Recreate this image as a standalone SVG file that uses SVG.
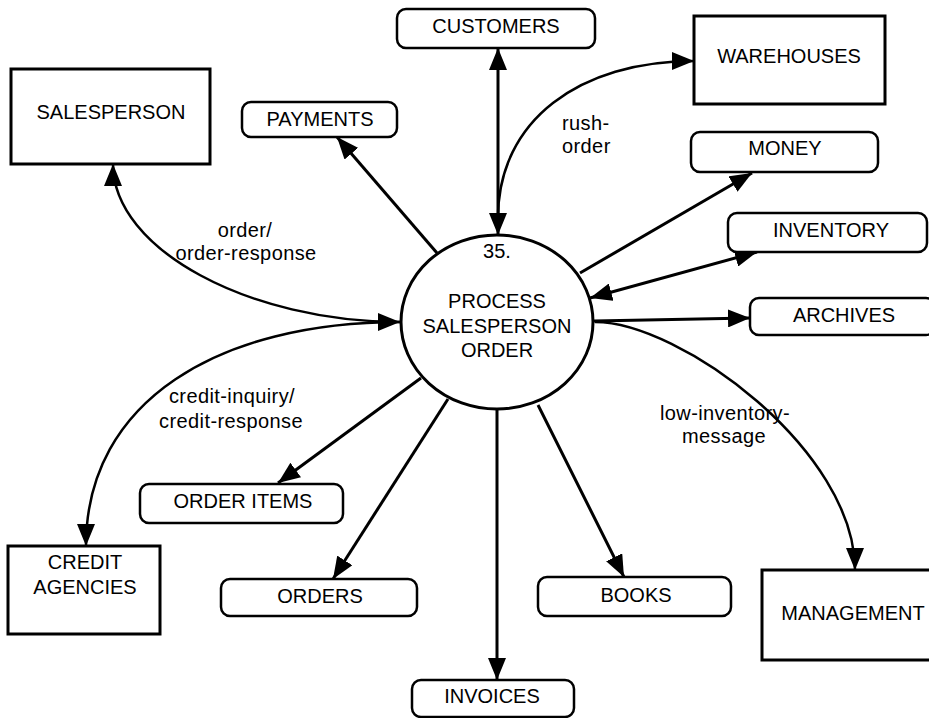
<svg xmlns="http://www.w3.org/2000/svg" width="929" height="718" viewBox="0 0 929 718">
<style>
text{font-family:"Liberation Sans",Arial,sans-serif;font-size:20px;fill:#000;text-anchor:middle}
.lbl{letter-spacing:0.4px}
.start{text-anchor:start}
.box{fill:#fff;stroke:#000;stroke-width:3}
.store{fill:#fff;stroke:#000;stroke-width:2.5}
.proc{fill:#fff;stroke:#000;stroke-width:3}
.flow{fill:none;stroke:#000;stroke-width:3}
.curve{fill:none;stroke:#000;stroke-width:2.5}
</style>
<defs>
<marker id="ah" viewBox="0 0 22 18" refX="22" refY="9" markerWidth="22" markerHeight="18" markerUnits="userSpaceOnUse" orient="auto-start-reverse"><path d="M0,0 L22,9 L0,18 z" fill="#000"/></marker>
</defs>
<rect width="929" height="718" fill="#fff"/>
<g id="connectors">
<path class="curve" d="M113 164 C113 250 250 322 400 322" marker-start="url(#ah)" marker-end="url(#ah)"/>
<path class="curve" d="M400 322 C220 322 86 400 86 546" marker-end="url(#ah)"/>
<path class="flow" d="M437 253 L337 137" marker-end="url(#ah)"/>
<path class="flow" d="M498 48 L498 235" marker-start="url(#ah)" marker-end="url(#ah)"/>
<path class="curve" d="M498 218 C498 120 580 61 694 61" marker-end="url(#ah)"/>
<path class="flow" d="M580 273 L752 173" marker-end="url(#ah)"/>
<path class="flow" d="M590 298 L757 252" marker-start="url(#ah)" marker-end="url(#ah)"/>
<path class="flow" d="M594 321 L750 318" marker-end="url(#ah)"/>
<path class="curve" d="M595 322 C680 322 855 450 855 570" marker-end="url(#ah)"/>
<path class="flow" d="M538 405 L624 577" marker-end="url(#ah)"/>
<path class="flow" d="M497 410 L497 680" marker-end="url(#ah)"/>
<path class="flow" d="M448 399 L333 579" marker-end="url(#ah)"/>
<path class="flow" d="M421 378 L278 483" marker-end="url(#ah)"/>
<text class="lbl" x="245" y="237">order/</text>
<text class="lbl" x="246" y="260">order-response</text>
<text class="lbl" x="232" y="403">credit-inquiry/</text>
<text class="lbl" x="231" y="428">credit-response</text>
<text class="lbl start" x="562" y="130">rush-</text>
<text class="lbl start" x="562" y="153">order</text>
<text class="lbl" x="725" y="420">low-inventory-</text>
<text class="lbl" x="724" y="443">message</text>
</g>
<g id="process">
<ellipse class="proc" cx="497" cy="322" rx="96" ry="87"/>
<text x="497" y="258">35.</text>
<text x="497" y="308">PROCESS</text>
<text x="497" y="333">SALESPERSON</text>
<text x="497" y="357">ORDER</text>
</g>
<g id="salesperson"><rect class="box" x="11" y="69" width="199" height="95"/><text x="111" y="119">SALESPERSON</text></g>
<g id="payments"><rect class="store" x="242" y="102" width="155" height="35" rx="9"/><text x="320" y="126">PAYMENTS</text></g>
<g id="customers"><rect class="store" x="397" y="9" width="198" height="39" rx="9"/><text x="496" y="33">CUSTOMERS</text></g>
<g id="warehouses"><rect class="box" x="694" y="16" width="191" height="88"/><text x="789" y="63">WAREHOUSES</text></g>
<g id="money"><rect class="store" x="691" y="132" width="187" height="40" rx="9"/><text x="785" y="155">MONEY</text></g>
<g id="inventory"><rect class="store" x="728" y="213" width="199" height="39" rx="9"/><text x="831" y="237">INVENTORY</text></g>
<g id="archives"><rect class="store" x="750" y="298" width="185" height="37" rx="9"/><text x="844" y="322">ARCHIVES</text></g>
<g id="management"><rect class="box" x="762" y="570" width="185" height="90"/><text x="853" y="620">MANAGEMENT</text></g>
<g id="books"><rect class="store" x="538" y="577" width="193" height="39" rx="9"/><text x="636" y="602">BOOKS</text></g>
<g id="invoices"><rect class="store" x="412" y="680" width="162" height="37" rx="9"/><text x="492" y="703">INVOICES</text></g>
<g id="orders"><rect class="store" x="221" y="579" width="196" height="37" rx="9"/><text x="320" y="603">ORDERS</text></g>
<g id="order-items"><rect class="store" x="140" y="484" width="203" height="39" rx="9"/><text x="243" y="508">ORDER ITEMS</text></g>
<g id="credit-agencies"><rect class="box" x="8" y="546" width="152" height="88"/><text x="85" y="569">CREDIT</text><text x="85" y="594">AGENCIES</text></g>
</svg>
